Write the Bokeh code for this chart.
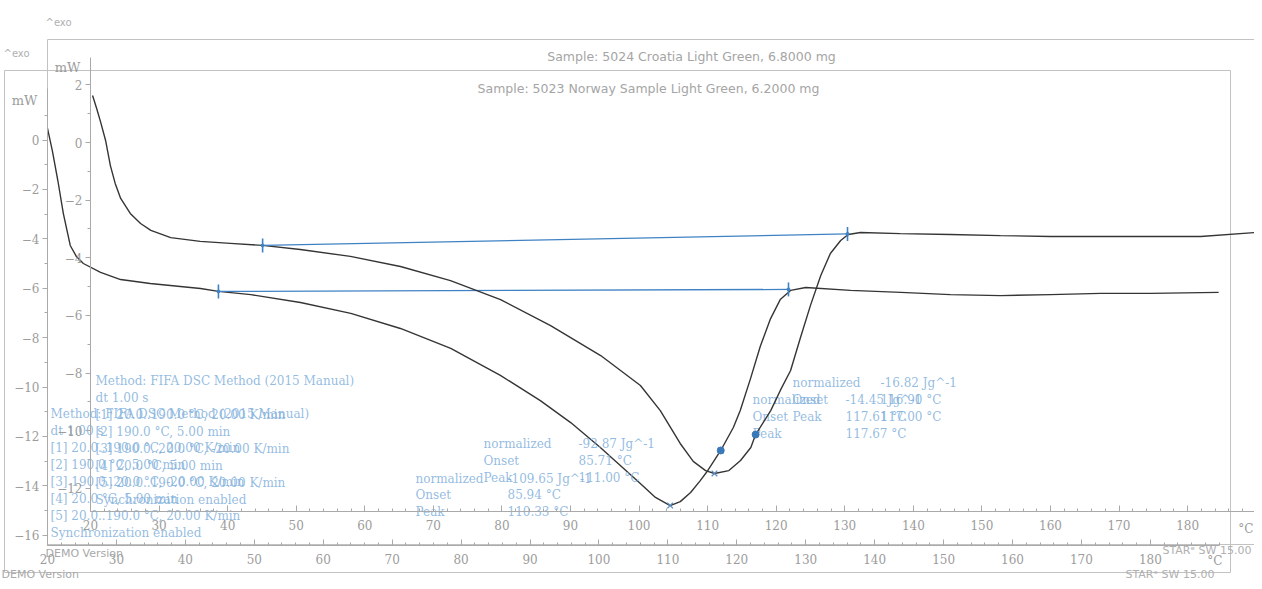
from bokeh.plotting import figure
from bokeh.models import Range1d, LinearAxis, FixedTicker
from bokeh.core.properties import value
from bokeh.embed import file_html
from bokeh.resources import INLINE

# ---------------- data ----------------
# Norway sample (back window): temperature (°C) / heat flow (mW)
norway_T = [20.0, 20.7, 21.5, 22.3, 23.3, 24.2, 25.2, 27.7, 30.6, 34.9, 42.2, 44.8,
            49.5, 56.7, 64.0, 71.2, 78.5, 85.7, 91.5, 95.9, 100.2, 103.1, 106.0, 108.2,
            110.33, 111.8, 113.3, 114.7, 115.8, 117.67, 119.5, 120.5, 122.0, 123.4, 124.9,
            126.3, 127.8, 130.0, 136.5, 143.8, 151.0, 158.3, 165.5, 172.8, 180.0, 189.9]
norway_mW = [0.47, -0.43, -1.64, -2.98, -4.27, -4.72, -5.00, -5.36, -5.65, -5.81, -6.01, -6.13,
             -6.26, -6.58, -7.02, -7.63, -8.44, -9.53, -10.55, -11.44, -12.45, -13.18, -13.91, -14.47,
             -14.80, -14.64, -14.27, -13.79, -13.38, -12.57, -11.64, -10.95, -9.65, -8.36, -7.23,
             -6.46, -6.09, -5.97, -6.09, -6.17, -6.26, -6.30, -6.26, -6.21, -6.21, -6.17]

# Croatia sample (front window)
croatia_T = [20.3, 20.9, 21.5, 22.2, 22.9, 23.6, 24.4, 25.8, 27.3, 28.8, 31.7, 36.0, 40.4,
             45.1, 50.6, 57.9, 65.2, 72.5, 79.8, 87.1, 94.4, 100.2, 103.1, 106.0, 107.9, 109.7,
             111.0, 113.1, 114.8, 116.3, 117.0, 119.2, 120.6, 122.1, 123.5, 125.0, 126.5, 127.9,
             129.4, 130.5, 132.3, 138.1, 145.4, 152.7, 160.0, 167.3, 174.6, 181.9, 190.0]
croatia_mW = [1.63, 1.18, 0.69, 0.07, -0.80, -1.42, -1.94, -2.46, -2.81, -3.05, -3.30, -3.43, -3.50,
              -3.57, -3.71, -3.95, -4.30, -4.79, -5.45, -6.35, -7.39, -8.43, -9.30, -10.44, -11.06, -11.38,
              -11.48, -11.38, -11.03, -10.58, -10.13, -9.30, -8.60, -7.91, -6.80, -5.65, -4.61, -3.85,
              -3.40, -3.19, -3.12, -3.16, -3.19, -3.23, -3.26, -3.26, -3.26, -3.26, -3.12]

norway_peak_T = [110.33, 117.67]
norway_peak_mW = [-14.80, -12.57]
croatia_peak_T = [111.00, 117.00]
croatia_peak_mW = [-11.48, -10.13]

norway_limit_T = [44.8, 127.5]
norway_limit_mW = [-6.13, -6.05]
croatia_limit_T = [45.1, 130.4]
croatia_limit_mW = [-3.57, -3.17]

x_ticks = list(range(20, 190, 10))
x_minor = list(range(20, 191, 2))
norway_y_ticks = list(range(-16, 1, 2))
norway_y_minor = list(range(-16, 2))
croatia_y_ticks = list(range(-12, 3, 2))
croatia_y_minor = list(range(-12, 3))

norway_title = "Sample: 5023 Norway Sample Light Green, 6.2000 mg"
croatia_title = "Sample: 5024 Croatia Light Green, 6.8000 mg"
result_names = ["normalized", "Onset", "Peak"]
norway_peak1 = ["-109.65 Jg^-1", "85.94 °C", "110.33 °C"]
croatia_peak1 = ["-92.87 Jg^-1", "85.71 °C", "111.00 °C"]
norway_peak2 = ["-14.45 Jg^-1", "117.61 °C", "117.67 °C"]
croatia_peak2 = ["-16.82 Jg^-1", "116.90 °C", "117.00 °C"]
method_lines = ["Method: FIFA DSC Method (2015 Manual)", "dt 1.00 s",
                "[1] 20.0..190.0 °C, 20.00 K/min", "[2] 190.0 °C, 5.00 min",
                "[3] 190.0..20.0 °C, -20.00 K/min", "[4] 20.0 °C, 5.00 min",
                "[5] 20.0..190.0 °C, 20.00 K/min", "Synchronization enabled"]

# ---------------- layout (picture pixels) ----------------
W, H, PAGE = 1254, 581, 0
NB = dict(x20=47.0, pxC=6.893, y0=139.5, pxmW=24.7)   # Norway window scale
CF = dict(x20=90.0, pxC=6.857, y0=142.0, pxmW=28.83)  # Croatia window scale


def X(w, px):
    return 20 + (px - w["x20"]) / w["pxC"]


def Y(w, py):
    return (w["y0"] - py) / w["pxmW"]


GRAY_AX = "#a9a9a9"
GRAY_TXT = "#9c9c9c"
BLUE_TXT = "#7fafdc"
BLUE = "#3f82c4"
CURVE = "#353535"
SERIF = value("DejaVu Serif")
SANS = value("DejaVu Sans")

p = figure(width=W, height=H,
           x_range=Range1d(X(NB, PAGE), X(NB, PAGE + W)),
           y_range=Range1d(Y(NB, PAGE + H), Y(NB, PAGE)),
           x_axis_type=None, y_axis_type=None,
           output_backend="svg", toolbar_location=None,
           min_border=0, outline_line_color=None,
           background_fill_color="white", border_fill_color="white")
p.extra_x_ranges = {"cro": Range1d(X(CF, PAGE), X(CF, PAGE + W))}
p.extra_y_ranges = {"cro": Range1d(Y(CF, PAGE + H), Y(CF, PAGE))}


def window(w, rn, box, title, title_px, mw_px, degc_px, exo_px, demo_px, star_px,
           xaxis_py, ytop_py, yticks, yminor, T, mW, lim_T, lim_mW, pk_T, pk_mW, x_marks,
           blk1, blk2, method_px):
    kw = {} if rn is None else dict(x_range_name=rn, y_range_name=rn)
    # window frame lines
    l, t, r, b = box
    p.segment(x0=[X(w, l), X(w, r), X(w, l), X(w, l)], y0=[Y(w, t), Y(w, t), Y(w, b), Y(w, t)],
              x1=[X(w, r), X(w, r), X(w, r), X(w, l)], y1=[Y(w, t), Y(w, b), Y(w, b), Y(w, b)],
              line_color="#c2c2c2", line_width=1, **kw)
    # texts around the frame
    p.text(x=[X(w, title_px[0])], y=[Y(w, title_px[1])], text=[title], text_align="center",
           text_baseline="middle", text_font=SANS, text_font_size="12.5px", text_color="#a5a5a5", **kw)
    p.text(x=[X(w, mw_px[0])], y=[Y(w, mw_px[1])], text=["mW"], text_align="center",
           text_baseline="middle", text_font=SERIF, text_font_size="13px", text_color=GRAY_TXT, **kw)
    p.text(x=[X(w, degc_px[0])], y=[Y(w, degc_px[1])], text=["°C"], text_align="right",
           text_baseline="middle", text_font=SERIF, text_font_size="12px", text_color=GRAY_TXT, **kw)
    p.text(x=[X(w, exo_px[0])], y=[Y(w, exo_px[1])], text=["^exo"], text_align="left",
           text_baseline="middle", text_font=SANS, text_font_size="10px", text_color="#b0b0b0", **kw)
    p.text(x=[X(w, demo_px[0])], y=[Y(w, demo_px[1])], text=["DEMO Version"], text_align="left",
           text_baseline=demo_px[2], text_font=SANS, text_font_size="11px", text_color="#a8a8a8", **kw)
    p.text(x=[X(w, star_px[0])], y=[Y(w, star_px[1])], text=["STARᵉ SW 15.00"], text_align="left",
           text_baseline=star_px[2], text_font=SANS, text_font_size="11px", text_color="#b0b0b0", **kw)

    # axes
    ya = LinearAxis(fixed_location=20, bounds=(Y(w, xaxis_py), Y(w, ytop_py)),
                    ticker=FixedTicker(ticks=yticks, minor_ticks=yminor), **kw)
    ya.major_tick_in, ya.major_tick_out = 0, 5
    ya.minor_tick_in, ya.minor_tick_out = 0, 3
    ya.major_label_standoff = 3
    xa = LinearAxis(fixed_location=Y(w, xaxis_py), bounds=(20, 190),
                    ticker=FixedTicker(ticks=x_ticks, minor_ticks=x_minor), **kw)
    xa.major_tick_in, xa.major_tick_out = 6, 0
    xa.minor_tick_in, xa.minor_tick_out = 3, 0
    xa.major_label_standoff = 8
    for ax in (ya, xa):
        ax.axis_line_color = GRAY_AX
        ax.major_tick_line_color = GRAY_AX
        ax.minor_tick_line_color = GRAY_AX
        ax.major_label_text_color = GRAY_TXT
        ax.major_label_text_font = "DejaVu Serif"
        ax.major_label_text_font_size = "12px"
    p.add_layout(ya, "left")
    p.add_layout(xa, "below")

    # curve, baseline, markers
    p.line(T, mW, line_color=CURVE, line_width=1.4, **kw)
    p.line(lim_T, lim_mW, line_color=BLUE, line_width=1.3, **kw)
    p.scatter(lim_T, lim_mW, marker="dash", angle=1.5708, size=14, line_color=BLUE,
              line_width=1.6, **kw)
    p.scatter(lim_T, lim_mW, marker="circle", size=3, fill_color=BLUE, line_color=BLUE, **kw)
    p.scatter([pk_T[i] for i in x_marks], [pk_mW[i] for i in x_marks], marker="x", size=8,
              line_color="#5e8fc2", line_width=1.3, **kw)
    p.scatter(pk_T[1:], pk_mW[1:], marker="circle", size=7, fill_color="#3a78b8",
              line_color="#3a78b8", **kw)

    # result blocks
    for (lx, vx, rows), vals in blk1 + blk2:
        p.text(x=[X(w, lx)] * 3, y=[Y(w, r) for r in rows], text=result_names, text_align="left",
               text_baseline="middle", text_font=SERIF, text_font_size="12px",
               text_color=BLUE_TXT, text_alpha=0.85, **kw)
        p.text(x=[X(w, vx)] * 3, y=[Y(w, r) for r in rows], text=vals, text_align="left",
               text_baseline="middle", text_font=SERIF, text_font_size="12px",
               text_color=BLUE_TXT, text_alpha=0.85, **kw)
    mx, my = method_px
    p.text(x=[X(w, mx)] * len(method_lines), y=[Y(w, my + 17.1 * i) for i in range(len(method_lines))],
           text=method_lines, text_align="left", text_baseline="middle", text_font=SERIF,
           text_font_size="12px", text_color=BLUE_TXT, text_alpha=0.85, **kw)


# back window: Norway
window(NB, None, (4, 70, 1230, 572), norway_title, (648, 88), (24, 100), (1222, 560), (3, 53),
       (1, 580.5, "bottom"), (1125, 580.5, "bottom"), 545, 88, norway_y_ticks, norway_y_minor,
       norway_T, norway_mW, norway_limit_T, norway_limit_mW, norway_peak_T, norway_peak_mW, [0, 1],
       [((415, 507, [478, 494.5, 511]), norway_peak1)],
       [((752, 845, [399, 416, 433]), norway_peak2)],
       (50, 413))

# front window: Croatia
window(CF, "cro", (47, 39, 1290, 544), croatia_title, (691, 56), (67, 67), (1253, 528), (45, 22),
       (45, 553, "middle"), (1162, 550, "middle"), 511, 57, croatia_y_ticks, croatia_y_minor,
       croatia_T, croatia_mW, croatia_limit_T, croatia_limit_mW, croatia_peak_T, croatia_peak_mW, [0],
       [((483, 578, [443, 460, 477]), croatia_peak1)],
       [((792, 880, [382, 399, 416]), croatia_peak2)],
       (95, 380))

open("out.html", "w").write(file_html(p, INLINE))
